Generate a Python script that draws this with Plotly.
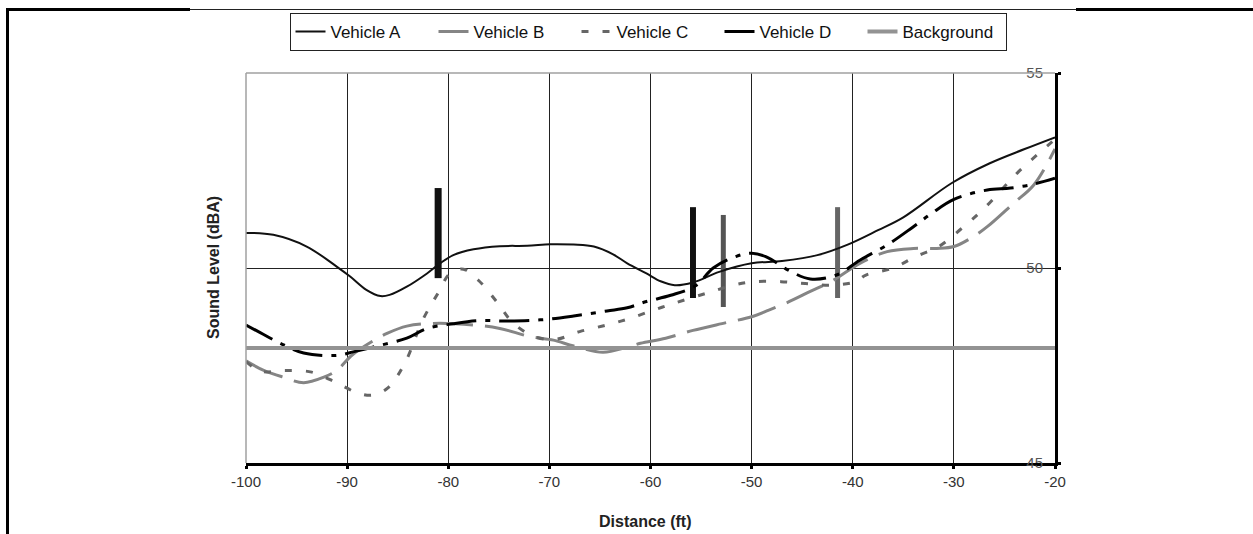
import plotly.graph_objects as go

# ---------------- data ----------------
a_x = [-100, -97.3, -94, -91, -89.7, -88.1, -86.7, -85.8, -84.1, -82.1,
       -80.8, -79.5, -77.5, -74.9, -72.2, -69.9, -67.6, -65.6, -63.7, -62.3,
       -60.4, -59, -57.6, -55.8, -53.2, -50, -47, -43.5, -40.5, -37.5,
       -35, -30.2, -26.5, -23, -20]
a_y = [50.9, 50.85, 50.55, 50.03, 49.78, 49.44, 49.28, 49.31, 49.52, 49.86,
       50.12, 50.33, 50.48, 50.56, 50.57, 50.61, 50.6, 50.55, 50.35, 50.12,
       49.86, 49.66, 49.56, 49.63, 49.9, 50.12, 50.18, 50.33, 50.6, 50.97,
       51.3, 52.18, 52.68, 53.05, 53.35]

b_x = [-100, -98.3, -96.3, -94.3, -92.3, -91, -89.5, -87.5, -86, -84.1,
       -81.5, -77.5, -74.9, -71.9, -69.6, -67.6, -64.7, -62.3, -61, -58.5,
       -55.8, -52.5, -50, -48.3, -46.6, -44.2, -41.9, -39.3, -36.6, -34,
       -31.7, -30, -28.1, -26.7, -24.1, -22.1, -20]
b_y = [47.62, 47.38, 47.2, 47.06, 47.2, 47.38, 47.77, 48.12, 48.33, 48.51,
       48.58, 48.54, 48.45, 48.24, 48.15, 48.0, 47.84, 47.97, 48.07, 48.2,
       48.4, 48.6, 48.75, 48.92, 49.1, 49.4, 49.69, 50.12, 50.42, 50.5,
       50.5, 50.55, 50.8, 51.06, 51.66, 52.13, 53.05]

c_x = [-100, -98.5, -96.3, -93.5, -91, -89, -87.5, -86, -84.3, -82.5,
       -81, -79.8, -78.5, -77, -75.1, -73.7, -71.5, -69.4, -67, -64.3,
       -62, -59.7, -57.6, -54.5, -51.8, -49.7, -47.1, -44.7, -42.2, -39.7,
       -38.7, -36, -33.8, -31.5, -29.3, -27, -23.6, -21.6, -20]
c_y = [47.6, 47.35, 47.37, 47.33, 47.05, 46.8, 46.74, 46.92, 47.56, 48.68,
       49.36, 49.87, 49.97, 49.68, 49.1, 48.62, 48.24, 48.17, 48.37, 48.54,
       48.71, 48.92, 49.1, 49.35, 49.56, 49.65, 49.65, 49.6, 49.56, 49.65,
       49.82, 50.0, 50.29, 50.55, 51.0, 51.53, 52.47, 52.94, 53.3]

d_x = [-100, -98.3, -96.6, -94.3, -91, -89.4, -86.7, -84.1, -82.1, -79.5,
       -76.9, -74.2, -70.9, -67.6, -64.3, -62.3, -60.4, -58, -55.5, -53.8,
       -51.5, -50, -48.5, -46.2, -44.2, -41.6, -39.3, -36.6, -34, -32.2,
       -30, -26.7, -24.4, -22.1, -20]
d_y = [48.54, 48.3, 48.07, 47.82, 47.76, 47.85, 48.02, 48.2, 48.45, 48.57,
       48.65, 48.64, 48.67, 48.77, 48.9, 48.98, 49.14, 49.3, 49.55, 50.0,
       50.3, 50.38, 50.28, 49.92, 49.72, 49.82, 50.2, 50.59, 51.06, 51.4,
       51.76, 52.0, 52.05, 52.15, 52.3]

bg_x = [-100, -20]
bg_y = [47.95, 47.95]

# vertical pass-by markers
bar_x = [-81, -55.8, -52.8, -41.5]
bar_lo = [49.74, 49.23, 49.0, 49.23]
bar_hi = [52.05, 51.56, 51.36, 51.56]
bar_color = ["#111111", "#111111", "#555555", "#666666"]
bar_width = [7, 6, 5, 5]

x_ticks = [-100, -90, -80, -70, -60, -50, -40, -30, -20]
y_ticks = [45, 50, 55]

# ---------------- figure ----------------
W, H = 1253, 534
L, R, T, B = 246, 198, 73, 71
PW, PH = W - L - R, H - T - B


def px(x):
    return (x - L) / PW


def py(y):
    return (H - B - y) / PH


FONT = "Arial, Liberation Sans, sans-serif"

fig = go.Figure()

for xv, lo, hi, col, wd in zip(bar_x, bar_lo, bar_hi, bar_color, bar_width):
    fig.add_trace(go.Scatter(x=[xv, xv], y=[lo, hi], mode="lines",
                             line=dict(color=col, width=wd),
                             showlegend=False, hoverinfo="skip"))

fig.add_trace(go.Scatter(x=a_x, y=a_y, name="Vehicle A", mode="lines",
                         line=dict(color="#111111", width=2, shape="spline")))
fig.add_trace(go.Scatter(x=b_x, y=b_y, name="Vehicle B", mode="lines",
                         line=dict(color="#858585", width=3, shape="spline",
                                   dash="40px,12px")))
fig.add_trace(go.Scatter(x=c_x, y=c_y, name="Vehicle C", mode="lines",
                         line=dict(color="#666666", width=3, shape="spline",
                                   dash="7px,14px")))
fig.add_trace(go.Scatter(x=d_x, y=d_y, name="Vehicle D", mode="lines",
                         line=dict(color="#000000", width=3, shape="spline",
                                   dash="30px,9px,5px,9px")))
fig.add_trace(go.Scatter(x=bg_x, y=bg_y, name="Background", mode="lines",
                         line=dict(color="#939393", width=4)))

shapes = [
    # plot border (top / left) in gray
    dict(type="line", xref="paper", yref="paper", x0=0, x1=1, y0=1, y1=1,
         line=dict(color="#a0a0a0", width=1.5), layer="above"),
    dict(type="line", xref="paper", yref="paper", x0=0, x1=0, y0=0, y1=1,
         line=dict(color="#a0a0a0", width=1.5), layer="above"),
    # page frame
    dict(type="line", xref="paper", yref="paper", x0=px(7.5), x1=px(7.5),
         y0=py(9), y1=py(540), line=dict(color="#000000", width=3)),
    dict(type="line", xref="paper", yref="paper", x0=px(6), x1=px(190),
         y0=py(9.5), y1=py(9.5), line=dict(color="#000000", width=3)),
    dict(type="line", xref="paper", yref="paper", x0=px(190), x1=px(1076),
         y0=py(9.5), y1=py(9.5), line=dict(color="#222222", width=1)),
    dict(type="line", xref="paper", yref="paper", x0=px(1076), x1=px(1253),
         y0=py(9.5), y1=py(9.5), line=dict(color="#000000", width=3)),
]

fig.update_layout(
    width=W, height=H,
    margin=dict(l=L, r=R, t=T, b=B, autoexpand=False),
    paper_bgcolor="white", plot_bgcolor="white",
    font=dict(family=FONT, size=15, color="#222222"),
    showlegend=True,
    legend=dict(orientation="h", x=px(648), xanchor="center",
                y=py(13), yanchor="top",
                bordercolor="#222222", borderwidth=1,
                font=dict(family=FONT, size=17, color="#111111"),
                entrywidth=98, entrywidthmode="pixels",
                tracegroupgap=0, bgcolor="white"),
    shapes=shapes,
    annotations=[
        dict(text="<b>Sound Level (dBA)</b>", xref="paper", yref="paper",
             x=px(213), y=0.5, xanchor="center", yanchor="middle",
             textangle=-90, showarrow=False,
             font=dict(family=FONT, size=16, color="#222222")),
        dict(text="<b>Distance (ft)</b>", xref="paper", yref="paper",
             x=px(645), y=py(521), xanchor="center", yanchor="middle",
             showarrow=False,
             font=dict(family=FONT, size=16, color="#222222")),
    ],
)

fig.update_xaxes(range=[-100, -20], tickvals=x_ticks,
                 ticktext=[str(v) for v in x_ticks],
                 showgrid=True, gridcolor="#222222", gridwidth=1,
                 zeroline=False, showline=True, linecolor="#000000",
                 linewidth=3, ticks="outside", ticklen=3, tickwidth=3,
                 tickcolor="#000000", ticklabeloverflow="allow",
                 tickfont=dict(family=FONT, size=15, color="#333333"))
fig.update_yaxes(range=[45, 55], tickvals=y_ticks,
                 ticktext=[str(v) for v in y_ticks],
                 side="right", ticklabelposition="inside",
                 ticklabeloverflow="allow", ticklabelstandoff=12,
                 showgrid=True, gridcolor="#222222", gridwidth=1,
                 zeroline=False, showline=True, linecolor="#000000",
                 linewidth=3, ticks="outside", ticklen=3, tickwidth=3,
                 tickcolor="#000000",
                 tickfont=dict(family=FONT, size=15, color="#555555"))

fig.write_html("out.html")
